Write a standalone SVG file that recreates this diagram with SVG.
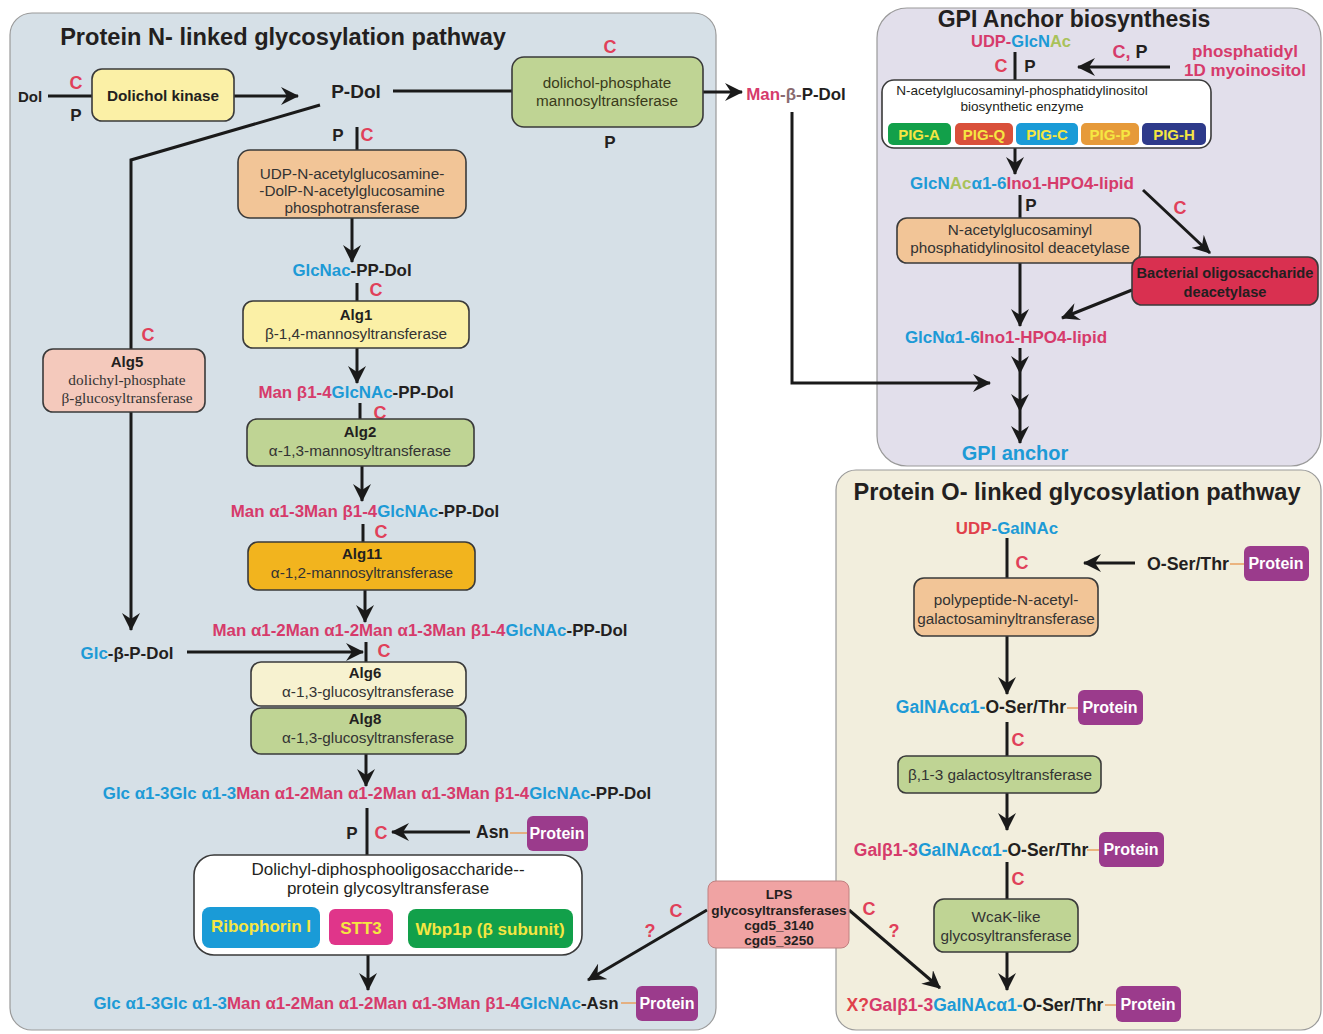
<svg xmlns="http://www.w3.org/2000/svg" width="1323" height="1034" viewBox="0 0 1323 1034">
<style>
text{font-family:"Liberation Sans",Arial,sans-serif;fill:#231f20}
.b{font-weight:bold}
.pk{fill:#d63b6b}.bl{fill:#1d9ad6}.gr{fill:#a9c25a}.rd{fill:#e0404a}.dk{fill:#231f20}
.c{font-weight:bold;font-size:18px;fill:#e0405a}
.p{font-weight:bold;font-size:17px;fill:#231f20}
.lab{font-weight:bold;font-size:16.9px;text-anchor:middle}
.olab{font-weight:bold;font-size:17.5px;text-anchor:middle}
.box{stroke:#3a3a3a;stroke-width:1.6}
.et{font-size:15.3px;text-anchor:middle;fill:#333}
.ser{font-family:"Liberation Serif","Times New Roman",serif;font-size:15.3px;text-anchor:middle;fill:#333}
.ln{stroke:#1a1a1a;stroke-width:3;fill:none}
.arr{marker-end:url(#ah)}
.prot{fill:#9b3b8c}
.pt{font-weight:bold;font-size:16px;fill:#fff;text-anchor:middle}
.ol{stroke:#e8a060;stroke-width:1.5}
.pig{font-weight:bold;font-size:15px;fill:#f5e642;text-anchor:middle}
.ost{font-weight:bold;font-size:17px;fill:#f5e642;text-anchor:middle}
.ttl{font-weight:bold;font-size:23.6px;text-anchor:middle}
</style>
<defs>
<marker id="ah" markerUnits="userSpaceOnUse" markerWidth="22" markerHeight="18" refX="17" refY="9" orient="auto">
<path d="M0,0 L18,9 L0,18 L6,9 z" fill="#1a1a1a"/>
</marker>
</defs>

<g id="panels">
<rect x="10" y="13" width="706" height="1017" rx="22" fill="#d6e0e7" stroke="#9a9a9a" stroke-width="1.2"/>
<rect x="877" y="8" width="444" height="458" rx="30" fill="#e2dfeb" stroke="#9a9a9a" stroke-width="1.2"/>
<rect x="836" y="470" width="485" height="560" rx="20" fill="#f2eedd" stroke="#9a9a9a" stroke-width="1.2"/>
<text x="283" y="45" class="ttl">Protein N- linked glycosylation pathway</text>
<text x="1074" y="27" class="ttl" style="font-size:23px">GPI Anchor biosynthesis</text>
<text x="1077" y="500" class="ttl">Protein O- linked glycosylation pathway</text>
</g>

<g id="connectors">
<line class="ln" x1="48" y1="96" x2="92" y2="96"/>
<line class="ln arr" x1="234" y1="96" x2="298" y2="96"/>
<line class="ln" x1="393" y1="91" x2="512" y2="91"/>
<line class="ln arr" x1="703" y1="92" x2="742" y2="92"/>
<polyline class="ln arr" points="792,112 792,383 990,383"/>
<polyline class="ln" points="320,105 131,160 131,349"/>
<line class="ln arr" x1="131" y1="412" x2="131" y2="630"/>
<line class="ln arr" x1="187" y1="652" x2="363" y2="652"/>
<line class="ln" x1="357" y1="127" x2="357" y2="150"/>
<line class="ln arr" x1="352" y1="218" x2="352" y2="262"/>
<line class="ln" x1="357" y1="283" x2="357" y2="301"/>
<line class="ln arr" x1="357" y1="348" x2="357" y2="383"/>
<line class="ln" x1="360" y1="403" x2="360" y2="419"/>
<line class="ln arr" x1="362" y1="466" x2="362" y2="501"/>
<line class="ln" x1="363" y1="524" x2="363" y2="542"/>
<line class="ln arr" x1="365" y1="590" x2="365" y2="622"/>
<line class="ln" x1="366" y1="642" x2="366" y2="662"/>
<line class="ln arr" x1="366" y1="754" x2="366" y2="786"/>
<line class="ln" x1="367" y1="808" x2="367" y2="855"/>
<line class="ln arr" x1="470" y1="832" x2="392" y2="832"/>
<line class="ol" x1="510" y1="833" x2="528" y2="833"/>
<line class="ln arr" x1="368" y1="955" x2="368" y2="990"/>
<line class="ol" x1="621" y1="1003" x2="637" y2="1003"/>
<line class="ln arr" x1="707" y1="910" x2="588" y2="980"/>
<line class="ln arr" x1="849" y1="910" x2="940" y2="988"/>
<line class="ln" x1="1015" y1="52" x2="1015" y2="80"/>
<line class="ln arr" x1="1170" y1="67" x2="1078" y2="67"/>
<line class="ln arr" x1="1015" y1="148" x2="1015" y2="174"/>
<line class="ln" x1="1020" y1="195" x2="1020" y2="218"/>
<line class="ln arr" x1="1020" y1="263" x2="1020" y2="326"/>
<line class="ln arr" x1="1143" y1="190" x2="1210" y2="253"/>
<line class="ln arr" x1="1132" y1="290" x2="1062" y2="318"/>
<line class="ln arr" x1="1020" y1="348" x2="1020" y2="373"/>
<line class="ln arr" x1="1020" y1="373" x2="1020" y2="411"/>
<line class="ln arr" x1="1020" y1="411" x2="1020" y2="443"/>
<line class="ln" x1="1007" y1="538" x2="1007" y2="578"/>
<line class="ln arr" x1="1135" y1="563" x2="1084" y2="563"/>
<line class="ol" x1="1230" y1="564" x2="1244" y2="564"/>
<line class="ln arr" x1="1007" y1="636" x2="1007" y2="694"/>
<line class="ol" x1="1067" y1="708" x2="1079" y2="708"/>
<line class="ln" x1="1007" y1="722" x2="1007" y2="756"/>
<line class="ln arr" x1="1007" y1="793" x2="1007" y2="830"/>
<line class="ol" x1="1087" y1="850" x2="1100" y2="850"/>
<line class="ln" x1="1007" y1="862" x2="1007" y2="899"/>
<line class="ln arr" x1="1007" y1="952" x2="1007" y2="990"/>
<line class="ol" x1="1105" y1="1005" x2="1117" y2="1005"/>
</g>

<g id="dol">
<text x="18" y="102" class="b" font-size="15">Dol</text>
<text x="76" y="89" class="c" text-anchor="middle">C</text>
<text x="76" y="121" class="p" text-anchor="middle">P</text>
</g>
<g id="dolichol-kinase">
<rect x="92" y="69" width="142" height="52" rx="10" fill="#fbf0a6" class="box"/>
<text x="163" y="101" class="b" font-size="15.3" text-anchor="middle">Dolichol kinase</text>
</g>
<g id="p-dol"><text x="356" y="98" class="b" font-size="19" text-anchor="middle">P-Dol</text></g>
<g id="dpm">
<text x="610" y="53" class="c" text-anchor="middle">C</text>
<rect x="512" y="57" width="191" height="70" rx="12" fill="#bfd494" class="box"/>
<text x="607" y="88" class="et" style="fill:#3a3a1a">dolichol-phosphate</text>
<text x="607" y="106" class="et" style="fill:#3a3a1a">mannosyltransferase</text>
<text x="610" y="148" class="p" text-anchor="middle">P</text>
</g>
<g id="man-p-dol"><text x="796" y="100" class="lab"><tspan class="pk">Man</tspan><tspan fill="#8a6a70">-β-</tspan>P-Dol</text></g>

<g id="alg7">
<text x="338" y="141" class="p" text-anchor="middle">P</text>
<text x="367" y="141" class="c" text-anchor="middle">C</text>
<rect x="238" y="150" width="228" height="68" rx="12" fill="#f2c597" class="box"/>
<text x="352" y="179" class="et">UDP-N-acetylglucosamine-</text>
<text x="352" y="196" class="et">-DolP-N-acetylglucosamine</text>
<text x="352" y="213" class="et">phosphotransferase</text>
</g>
<g id="glcnac-pp-dol"><text x="352" y="276" class="lab"><tspan class="bl">GlcNac</tspan>-PP-Dol</text>
<text x="376" y="296" class="c" text-anchor="middle">C</text></g>
<g id="alg1">
<rect x="243" y="301" width="226" height="47" rx="10" fill="#fbf0a6" class="box"/>
<text x="356" y="320" class="b" font-size="15" text-anchor="middle">Alg1</text>
<text x="356" y="339" class="et">β-1,4-mannosyltransferase</text>
</g>
<g id="man1"><text x="356" y="398" class="lab"><tspan class="pk">Man β1-4</tspan><tspan class="bl">GlcNAc</tspan>-PP-Dol</text>
<text x="380" y="419" class="c" text-anchor="middle">C</text></g>
<g id="alg2">
<rect x="247" y="419" width="227" height="47" rx="10" fill="#bfd494" class="box"/>
<text x="360" y="437" class="b" font-size="15" text-anchor="middle">Alg2</text>
<text x="360" y="456" class="et">α-1,3-mannosyltransferase</text>
</g>
<g id="man2"><text x="365" y="517" class="lab"><tspan class="pk">Man α1-3Man β1-4</tspan><tspan class="bl">GlcNAc</tspan>-PP-Dol</text>
<text x="381" y="538" class="c" text-anchor="middle">C</text></g>
<g id="alg11">
<rect x="248" y="542" width="227" height="48" rx="10" fill="#f2b41e" class="box"/>
<text x="362" y="559" class="b" font-size="15" text-anchor="middle">Alg11</text>
<text x="362" y="578" class="et">α-1,2-mannosyltransferase</text>
</g>
<g id="man4"><text x="420" y="636" class="lab"><tspan class="pk">Man α1-2Man α1-2Man α1-3Man β1-4</tspan><tspan class="bl">GlcNAc</tspan>-PP-Dol</text>
<text x="384" y="657" class="c" text-anchor="middle">C</text></g>
<g id="alg5">
<text x="148" y="341" class="c" text-anchor="middle">C</text>
<rect x="43" y="349" width="162" height="63" rx="10" fill="#f4c9bc" class="box"/>
<text x="127" y="367" class="b" font-size="15" text-anchor="middle">Alg5</text>
<text x="127" y="385" class="ser">dolichyl-phosphate</text>
<text x="127" y="403" class="ser">β-glucosyltransferase</text>
</g>
<g id="glc-p-dol"><text x="127" y="659" class="lab"><tspan class="bl">Glc</tspan>-β-P-Dol</text></g>
<g id="alg6">
<rect x="251" y="662" width="215" height="44" rx="10" fill="#f7f2d0" class="box"/>
<text x="365" y="678" class="b" font-size="15" text-anchor="middle">Alg6</text>
<text x="368" y="697" class="et">α-1,3-glucosyltransferase</text>
</g>
<g id="alg8">
<rect x="251" y="708" width="215" height="46" rx="10" fill="#bfd494" class="box"/>
<text x="365" y="724" class="b" font-size="15" text-anchor="middle">Alg8</text>
<text x="368" y="743" class="et">α-1,3-glucosyltransferase</text>
</g>
<g id="glc-pp-dol"><text x="377" y="799" class="lab"><tspan class="bl">Glc α1-3Glc α1-3</tspan><tspan class="pk">Man α1-2Man α1-2Man α1-3Man β1-4</tspan><tspan class="bl">GlcNAc</tspan>-PP-Dol</text>
<text x="352" y="839" class="p" text-anchor="middle">P</text>
<text x="381" y="839" class="c" text-anchor="middle">C</text></g>
<g id="asn-protein">
<text x="476" y="838" class="b" font-size="17.5">Asn</text>
<rect x="527" y="816" width="61" height="35" rx="6" class="prot"/>
<text x="557" y="839" class="pt">Protein</text>
</g>
<g id="ost">
<rect x="194" y="855" width="388" height="100" rx="20" fill="#ffffff" class="box"/>
<text x="388" y="875" font-size="17" text-anchor="middle" fill="#333">Dolichyl-diphosphooligosaccharide--</text>
<text x="388" y="894" font-size="17" text-anchor="middle" fill="#333">protein glycosyltransferase</text>
<rect x="202" y="907" width="118" height="41" rx="8" fill="#1a9bd7"/>
<text x="261" y="932" class="ost">Ribophorin I</text>
<rect x="329" y="909" width="64" height="36" rx="6" fill="#e0358a"/>
<text x="361" y="934" class="ost">STT3</text>
<rect x="408" y="909" width="165" height="39" rx="8" fill="#12a04a"/>
<text x="490" y="935" class="ost">Wbp1p (β subunit)</text>
</g>
<g id="glc-asn">
<text x="356" y="1009" class="lab"><tspan class="bl">Glc α1-3Glc α1-3</tspan><tspan class="pk">Man α1-2Man α1-2Man α1-3Man β1-4</tspan><tspan class="bl">GlcNAc</tspan>-Asn</text>
<rect x="636" y="986" width="62" height="35" rx="6" class="prot"/>
<text x="667" y="1009" class="pt">Protein</text>
</g>
<g id="lps">
<rect x="708" y="881" width="141" height="67" rx="8" fill="#f0a3a3" stroke="#c08080" stroke-width="1"/>
<text x="779" y="899" class="b" font-size="13.6" text-anchor="middle">LPS</text>
<text x="779" y="915" class="b" font-size="13.6" text-anchor="middle">glycosyltransferases</text>
<text x="779" y="930" class="b" font-size="13.6" text-anchor="middle">cgd5_3140</text>
<text x="779" y="945" class="b" font-size="13.6" text-anchor="middle">cgd5_3250</text>
<text x="676" y="917" class="c" text-anchor="middle">C</text>
<text x="650" y="937" class="c" text-anchor="middle">?</text>
<text x="869" y="915" class="c" text-anchor="middle">C</text>
<text x="894" y="937" class="c" text-anchor="middle">?</text>
</g>

<g id="gpi-start">
<text x="1021" y="47" class="lab" style="font-size:16.5px"><tspan class="pk">UDP-</tspan><tspan class="bl">GlcN</tspan><tspan class="gr">Ac</tspan></text>
<text x="1001" y="72" class="c" text-anchor="middle">C</text>
<text x="1030" y="72" class="p" text-anchor="middle">P</text>
<text x="1130" y="58" class="b" font-size="18" text-anchor="middle"><tspan class="pk">C,</tspan> P</text>
<text x="1245" y="57" class="b pk" font-size="17" text-anchor="middle">phosphatidyl</text>
<text x="1245" y="76" class="b pk" font-size="17" text-anchor="middle">1D myoinositol</text>
</g>
<g id="gpi-enzyme">
<rect x="882" y="80" width="329" height="68" rx="12" fill="#ffffff" class="box"/>
<text x="1022" y="95" font-size="13.6" text-anchor="middle" fill="#333">N-acetylglucosaminyl-phosphatidylinositol</text>
<text x="1022" y="111" font-size="13.6" text-anchor="middle" fill="#333">biosynthetic enzyme</text>
<rect x="888" y="123" width="63" height="22" rx="5" fill="#12a04a"/>
<text x="919" y="140" class="pig">PIG-A</text>
<rect x="955" y="123" width="58" height="22" rx="5" fill="#d9503a"/>
<text x="984" y="140" class="pig">PIG-Q</text>
<rect x="1016" y="123" width="62" height="22" rx="5" fill="#1a9bd7"/>
<text x="1047" y="140" class="pig">PIG-C</text>
<rect x="1081" y="123" width="58" height="22" rx="5" fill="#e69a3a"/>
<text x="1110" y="140" class="pig">PIG-P</text>
<rect x="1142" y="123" width="64" height="22" rx="5" fill="#2e3a8a"/>
<text x="1174" y="140" class="pig">PIG-H</text>
</g>
<g id="glcnac-ino"><text x="1022" y="189" class="lab" style="font-size:17px"><tspan class="bl">GlcN</tspan><tspan class="gr">Ac</tspan><tspan class="bl">α1-6</tspan><tspan class="pk">Ino1-HPO4-lipid</tspan></text>
<text x="1031" y="211" class="p" text-anchor="middle">P</text>
<text x="1180" y="214" class="c" text-anchor="middle">C</text></g>
<g id="deacetylase">
<rect x="897" y="218" width="243" height="45" rx="10" fill="#f2c597" class="box"/>
<text x="1020" y="235" class="et">N-acetylglucosaminyl</text>
<text x="1020" y="253" class="et">phosphatidylinositol deacetylase</text>
</g>
<g id="bact-deacetylase">
<rect x="1132" y="257" width="186" height="48" rx="10" fill="#d93050" class="box"/>
<text x="1225" y="278" class="b" font-size="14.6" text-anchor="middle" fill="#f5d090">Bacterial oligosaccharide</text>
<text x="1225" y="297" class="b" font-size="14.6" text-anchor="middle" fill="#f5d090">deacetylase</text>
</g>
<g id="glcn-ino"><text x="1006" y="343" class="lab" style="font-size:17px"><tspan class="bl">GlcNα1-6</tspan><tspan class="pk">Ino1-HPO4-lipid</tspan></text></g>
<g id="gpi-anchor"><text x="1015" y="460" class="b bl" font-size="20" text-anchor="middle">GPI anchor</text></g>

<g id="udp-galnac"><text x="1007" y="534" class="lab"><tspan class="rd">UDP</tspan><tspan class="bl">-GalNAc</tspan></text>
<text x="1022" y="569" class="c" text-anchor="middle">C</text></g>
<g id="oser-protein">
<text x="1147" y="570" class="b" font-size="17.8">O-Ser/Thr</text>
<rect x="1244" y="546" width="65" height="35" rx="6" class="prot"/>
<text x="1276" y="569" class="pt">Protein</text>
</g>
<g id="ppgalnact">
<rect x="914" y="578" width="184" height="58" rx="10" fill="#f2c597" class="box"/>
<text x="1006" y="605" class="et">polypeptide-N-acetyl-</text>
<text x="1006" y="624" class="et">galactosaminyltransferase</text>
</g>
<g id="galnac-ser">
<text x="981" y="713" class="olab"><tspan class="bl">GalNAcα1-</tspan>O-Ser/Thr</text>
<rect x="1078" y="690" width="65" height="35" rx="6" class="prot"/>
<text x="1110" y="713" class="pt">Protein</text>
<text x="1018" y="746" class="c" text-anchor="middle">C</text>
</g>
<g id="galt">
<rect x="898" y="756" width="203" height="37" rx="8" fill="#bfd494" class="box"/>
<text x="1000" y="780" class="et">β,1-3 galactosyltransferase</text>
</g>
<g id="gal-galnac-ser">
<text x="971" y="856" class="olab"><tspan class="pk">Galβ1-3</tspan><tspan class="bl">GalNAcα1-</tspan>O-Ser/Thr</text>
<rect x="1099" y="832" width="65" height="35" rx="6" class="prot"/>
<text x="1131" y="855" class="pt">Protein</text>
<text x="1018" y="885" class="c" text-anchor="middle">C</text>
</g>
<g id="wcak">
<rect x="934" y="899" width="144" height="53" rx="10" fill="#bfd494" class="box"/>
<text x="1006" y="922" class="et">WcaK-like</text>
<text x="1006" y="941" class="et">glycosyltransferase</text>
</g>
<g id="x-gal-ser">
<text x="975" y="1011" class="olab"><tspan class="rd">X?</tspan><tspan class="pk">Galβ1-3</tspan><tspan class="bl">GalNAcα1-</tspan>O-Ser/Thr</text>
<rect x="1116" y="986" width="65" height="36" rx="6" class="prot"/>
<text x="1148" y="1010" class="pt">Protein</text>
</g>
</svg>
